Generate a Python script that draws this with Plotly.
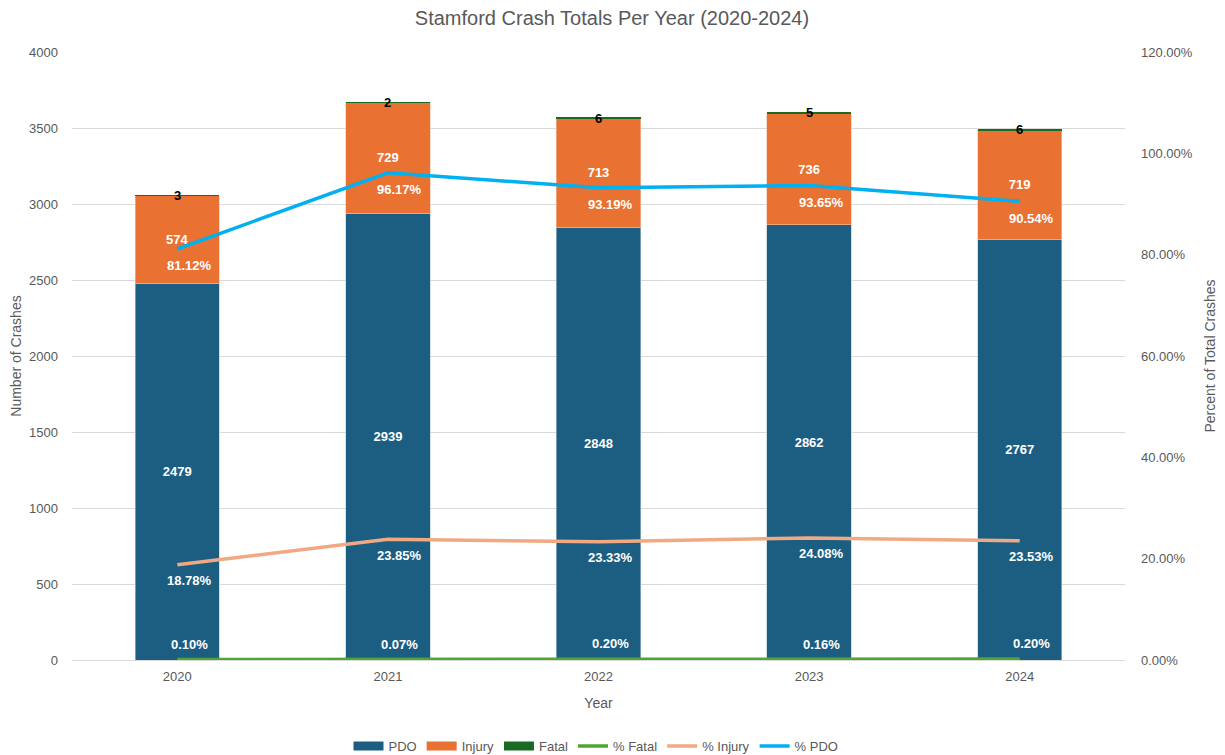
import plotly.graph_objects as go

years = ["2020", "2021", "2022", "2023", "2024"]
pdo = [2479, 2939, 2848, 2862, 2767]
injury = [574, 729, 713, 736, 719]
fatal = [3, 2, 6, 5, 6]
pct_fatal = [0.10, 0.07, 0.20, 0.16, 0.20]
pct_injury = [18.78, 23.85, 23.33, 24.08, 23.53]
pct_pdo = [81.12, 96.17, 93.19, 93.65, 90.54]

C_PDO = "#1B5E82"
C_INJ = "#E97132"
C_FAT = "#196B24"
C_PFAT = "#4EA72E"
C_PINJ = "#F1A983"
C_PPDO = "#00B0F0"
GRAY = "#595959"
FAM = "Liberation Sans, Arial, sans-serif"
LBL = dict(family=FAM, size=13, color="white", weight="bold")

fig = go.Figure()
fig.add_trace(go.Bar(x=years, y=pdo, name="PDO", showlegend=False,
                     marker=dict(color=C_PDO, line=dict(color="#B7C9D6", width=0.6)),
                     text=[str(v) for v in pdo], textposition="inside", insidetextanchor="middle",
                     textangle=0, textfont=LBL, hoverinfo="skip"))
fig.add_trace(go.Bar(x=years, y=injury, name="Injury", showlegend=False,
                     marker=dict(color=C_INJ, line=dict(color="#F4C3A8", width=0.6)),
                     text=[str(v) for v in injury], textposition="inside", insidetextanchor="middle",
                     textangle=0, textfont=LBL, hoverinfo="skip"))
fig.add_trace(go.Bar(x=years, y=fatal, name="Fatal", showlegend=False,
                     marker=dict(color=C_FAT, line=dict(width=0)), hoverinfo="skip"))

# legend swatches for the bar series (wide rectangles, as in the reference)
for nm, col in (("PDO", C_PDO), ("Injury", C_INJ), ("Fatal", C_FAT)):
    fig.add_trace(go.Scatter(x=[None], y=[None], name=nm, mode="lines",
                             line=dict(color=col, width=9)))

fig.add_trace(go.Scatter(x=years, y=pct_fatal, name="% Fatal", mode="lines", yaxis="y2",
                         line=dict(color=C_PFAT, width=3.5)))
fig.add_trace(go.Scatter(x=years, y=pct_injury, name="% Injury", mode="lines", yaxis="y2",
                         line=dict(color=C_PINJ, width=3.5)))
fig.add_trace(go.Scatter(x=years, y=pct_pdo, name="% PDO", mode="lines", yaxis="y2",
                         line=dict(color=C_PPDO, width=3.5)))

annotations = []
for i in range(len(years)):
    top = pdo[i] + injury[i] + fatal[i] / 2
    annotations.append(dict(x=i, y=top, xref="x", yref="y", text=str(fatal[i]), showarrow=False,
                            font=dict(family=FAM, size=13, color="black", weight="bold")))
for vals, ysh in ((pct_pdo, -17), (pct_injury, -16), (pct_fatal, 15)):
    for i in range(len(years)):
        annotations.append(dict(x=i, y=vals[i], xref="x", yref="y2", text=f"{vals[i]:.2f}%",
                                showarrow=False, xshift=12, yshift=ysh, font=LBL))

fig.update_layout(
    width=1225, height=755,
    paper_bgcolor="white", plot_bgcolor="white",
    barmode="stack", bargap=0.6,
    margin=dict(l=64, r=108, t=44, b=103, autoexpand=False),
    title=dict(text="Stamford Crash Totals Per Year (2020-2024)", x=(612 - 8) / 1225, xanchor="center",
               y=1 - 10 / 755, yanchor="middle", font=dict(family=FAM, size=20, color=GRAY)),
    font=dict(family=FAM, size=13, color=GRAY),
    xaxis=dict(type="category", range=[-0.5, 4.5], showgrid=False, showline=True, automargin=False,
               linecolor="#D9D9D9", linewidth=1, ticks="", tickfont=dict(size=13, color=GRAY),
               ticklabelstandoff=4,
               title=dict(text="Year", font=dict(size=14, color=GRAY), standoff=15)),
    yaxis=dict(range=[0, 4000], dtick=500, showgrid=True, gridcolor="#D9D9D9", gridwidth=1,
               automargin=False, zeroline=False, ticks="", tickfont=dict(size=13, color=GRAY),
               ticklabelstandoff=13,
               title=dict(text="Number of Crashes", font=dict(size=14, color=GRAY), standoff=8)),
    yaxis2=dict(range=[0, 120], dtick=20, overlaying="y", side="right", showgrid=False, zeroline=False,
                automargin=False, tickformat=".2f", ticksuffix="%", ticks="",
                tickfont=dict(size=13, color=GRAY), ticklabelstandoff=15,
                title=dict(text="Percent of Total Crashes", font=dict(size=14, color=GRAY), standoff=13)),
    legend=dict(orientation="h", x=(596 - 8 - 64) / 1053, xanchor="center",
                yref="container", y=1 - 738 / 755, yanchor="middle",
                font=dict(size=13, color=GRAY), traceorder="normal"),
    annotations=annotations,
)

fig.write_html("out.html")
